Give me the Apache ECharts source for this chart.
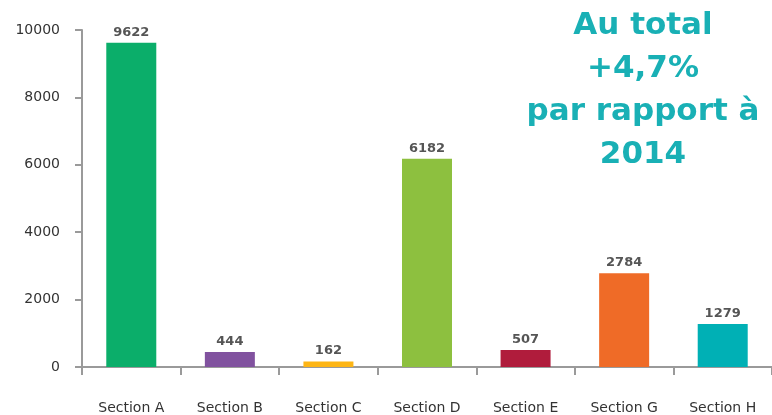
<!DOCTYPE html>
<html lang="fr" style="height: 100%">

<head>
  <meta charset="utf-8" />
</head>

<body style="height: 100%; margin: 0; background: #fff">
  <div id="container" style="width: 772px; height: 415px;"></div>

  <script type="text/javascript" src="https://cdn.jsdelivr.net/npm/echarts@6/dist/echarts.min.js"></script>

  <script type="text/javascript">
    // données
    var categories = ['Section A', 'Section B', 'Section C', 'Section D', 'Section E', 'Section G', 'Section H'];
    var values = [9622, 444, 162, 6182, 507, 2784, 1279];
    var barColors = ['#0bae6a', '#81529f', '#fdb515', '#8dc03f', '#b01c3c', '#ef6b27', '#00b0b5'];
    var yTicks = [0, 2000, 4000, 6000, 8000, 10000];
    var note = ['Au total', '+4,7%', 'par rapport à', '2014'];

    var font = "'DejaVu Sans', sans-serif";
    var dom = document.getElementById('container');
    var myChart = echarts.init(dom, null, { renderer: 'canvas' });

    var option = {
      animation: false,
      grid: { left: 82, right: -3, top: 30, bottom: 48, containLabel: false },
      xAxis: {
        type: 'category',
        data: categories,
        axisLine: { lineStyle: { color: '#9a9a9a', width: 2 } },
        axisTick: { show: true, length: 8, lineStyle: { color: '#9a9a9a', width: 2 } },
        axisLabel: { color: '#333', fontSize: 14, fontFamily: font, margin: 34 }
      },
      yAxis: {
        type: 'value',
        min: yTicks[0],
        max: yTicks[yTicks.length - 1],
        interval: 2000,
        splitLine: { show: false },
        axisLine: { show: true, lineStyle: { color: '#9a9a9a', width: 2 } },
        axisTick: { show: true, length: 7, lineStyle: { color: '#9a9a9a', width: 2 } },
        axisLabel: {
          color: '#333', fontSize: 14, fontFamily: font, margin: 22,
          formatter: function (v) { return String(v); }
        }
      },
      series: [{
        type: 'bar',
        barWidth: 50,
        data: values.map(function (v, i) {
          return { value: v, itemStyle: { color: barColors[i] } };
        }),
        label: {
          show: true,
          position: 'top',
          distance: 4,
          color: '#555',
          fontSize: 13,
          fontWeight: 'bold',
          fontFamily: font
        }
      }],
      graphic: [{
        type: 'text',
        x: 643,
        y: 4,
        style: {
          text: note.join('\n'),
          fill: '#19b0b5',
          fontSize: 31,
          fontWeight: 'bold',
          fontFamily: font,
          lineHeight: 43,
          align: 'center',
          textAlign: 'center',
          verticalAlign: 'top'
        }
      }]
    };

    myChart.setOption(option);
    window.addEventListener('resize', myChart.resize);
  </script>
</body>

</html>
